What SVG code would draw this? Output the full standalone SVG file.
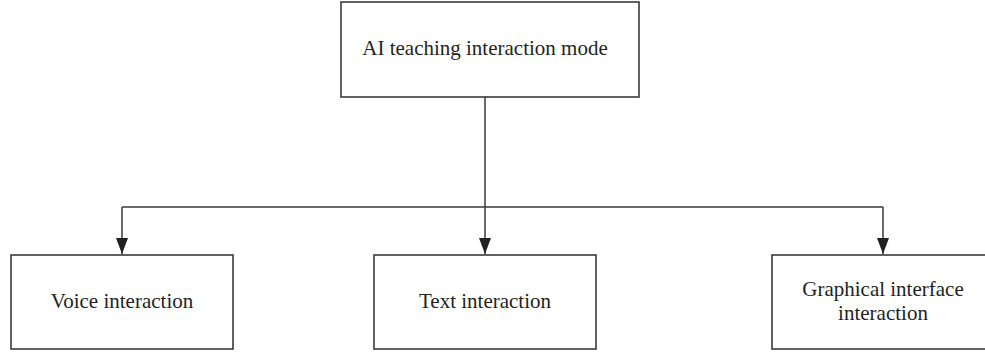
<svg xmlns="http://www.w3.org/2000/svg" width="985" height="356" viewBox="0 0 985 356">
<style>
.box{fill:#fff;stroke:#3a3a3a;stroke-width:1.6}
.lbl{font-family:"Liberation Serif","Times New Roman",serif;font-size:21px;fill:#231f20;text-anchor:middle}
.con{fill:none;stroke:#3a3a3a;stroke-width:1.5}
</style>
<defs>
<marker id="arr" markerUnits="userSpaceOnUse" markerWidth="16" markerHeight="12" refX="16" refY="6" orient="auto" viewBox="0 0 16 12">
<path d="M0,0 L16,6 L0,12 Z" fill="#231f20"/>
</marker>
</defs>
<rect width="985" height="356" fill="#fff"/>
<g id="connectors">
<line class="con" x1="485" y1="97" x2="485" y2="207"/>
<line class="con" x1="122" y1="207" x2="883" y2="207"/>
<line class="con" x1="122" y1="207" x2="122" y2="254" marker-end="url(#arr)"/>
<line class="con" x1="485" y1="207" x2="485" y2="254" marker-end="url(#arr)"/>
<line class="con" x1="883" y1="207" x2="883" y2="254" marker-end="url(#arr)"/>
</g>
<g id="root">
<rect class="box" x="341" y="2" width="298" height="95"/>
<text class="lbl" x="485" y="55">AI teaching interaction mode</text>
</g>
<g id="voice">
<rect class="box" x="11" y="255" width="222" height="94"/>
<text class="lbl" x="122" y="308">Voice interaction</text>
</g>
<g id="text">
<rect class="box" x="374" y="255" width="222" height="94"/>
<text class="lbl" x="485" y="308">Text interaction</text>
</g>
<g id="graphical">
<rect class="box" x="772" y="255" width="222" height="94"/>
<text class="lbl" x="883" y="296">Graphical interface</text>
<text class="lbl" x="883" y="320">interaction</text>
</g>
</svg>
